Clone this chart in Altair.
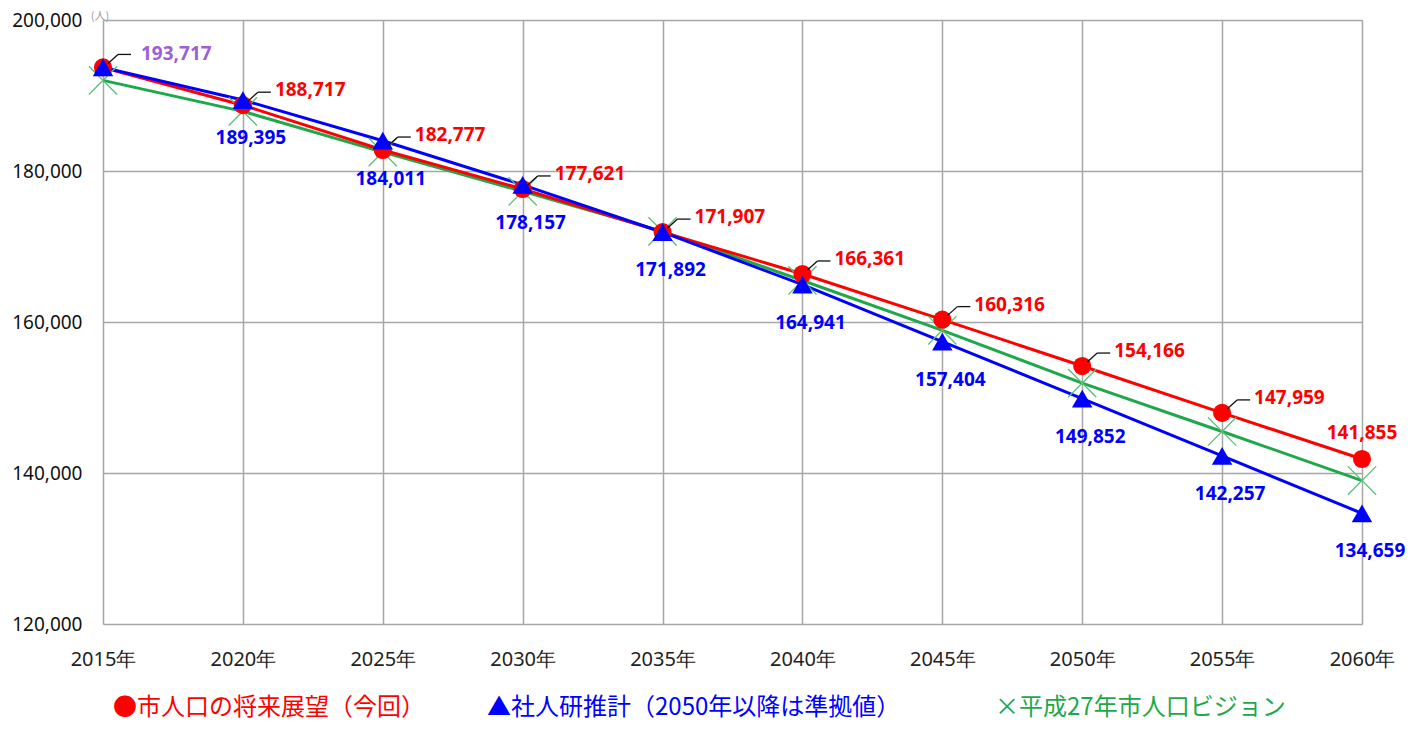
import altair as alt
import pandas as pd

years = [2015, 2020, 2025, 2030, 2035, 2040, 2045, 2050, 2055, 2060]
red_vals = [193717, 188717, 182777, 177621, 171907, 166361, 160316, 154166, 147959, 141855]
blue_vals = [193717, 189395, 184011, 178157, 171892, 164941, 157404, 149852, 142257, 134659]
green_vals = [192000, 187900, 182500, 177300, 172000, 165500, 158900, 151900, 145500, 139000]
y_ticks = [120000, 140000, 160000, 180000, 200000]

legend_red = "●市人口の将来展望（今回）"
legend_blue = "▲社人研推計（2050年以降は準拠値）"
legend_green = "×平成27年市人口ビジョン"

RED = "#ff0000"
BLUE = "#0000ff"
GREEN = "#1ea84a"
GREEN_MK = "#5cbf7a"
PURPLE = "#9b5fd6"

def frame(vals, ys=years):
    return pd.DataFrame({"year": ys, "value": vals,
                         "label": [f"{v:,}" for v in vals]})

red_df = frame(red_vals)
blue_df = frame(blue_vals)
green_df = frame(green_vals)

W, H = 1259, 604

xs = alt.X("year:Q", scale=alt.Scale(domain=[2015, 2060], nice=False, zero=False),
           axis=alt.Axis(values=years, labelExpr="datum.value + '年'", title=None,
                         grid=True, gridColor="#a6a6a6", gridWidth=1.5, domain=False,
                         ticks=False, labelPadding=25, labelFontSize=20, labelFlush=False,
                         labelColor="#222", labelFont="Noto Sans"))
ys = alt.Y("value:Q", scale=alt.Scale(domain=[120000, 200000], nice=False, zero=False),
           axis=alt.Axis(values=y_ticks, labelExpr="format(datum.value, ',')", title=None,
                         grid=True, labelFlush=False,
                         gridColor="#a6a6a6", gridWidth=1.5, domain=False, ticks=False,
                         labelPadding=21, labelFontSize=19, labelColor="#111",
                         labelFont="Noto Sans"))

def line(df, color):
    return alt.Chart(df).mark_line(color=color, strokeWidth=3).encode(x=xs, y=ys)

green_line = line(green_df, GREEN)
red_line = line(red_df, RED)
blue_line = line(blue_df, BLUE)

green_pts = alt.Chart(green_df).mark_point(
    shape="M-1,-1L1,1M-1,1L1,-1", filled=False, color=GREEN_MK, strokeWidth=1.3,
    size=800, opacity=1).encode(x=xs, y=ys)
red_pts = alt.Chart(red_df).mark_point(shape="circle", filled=True, color=RED,
                                       size=330, opacity=1).encode(x=xs, y=ys)
blue_pts = alt.Chart(blue_df).mark_point(shape="triangle-up", filled=True, color=BLUE,
                                         size=420, opacity=1).encode(x=xs, y=ys)

lead_df = red_df.iloc[:-1]
lead1 = alt.Chart(lead_df).mark_rule(color="#111", strokeWidth=1.3,
                                     xOffset=5, yOffset=-4, x2Offset=15, y2Offset=-13).encode(
    x=xs, y=ys, x2="year:Q", y2="value:Q")
lead2 = alt.Chart(lead_df).mark_rule(color="#111", strokeWidth=1.3,
                                     xOffset=15, yOffset=-13, x2Offset=28, y2Offset=-13).encode(
    x=xs, y=ys, x2="year:Q", y2="value:Q")

lab_font = "Noto Sans"
red_lab = alt.Chart(red_df.iloc[1:-1]).mark_text(
    align="left", baseline="middle", dx=32, dy=-15, fontSize=19, fontWeight="bold",
    font=lab_font, color=RED).encode(x=xs, y=ys, text="label:N")
first_lab = alt.Chart(red_df.iloc[:1]).mark_text(
    align="left", baseline="middle", dx=38, dy=-13, fontSize=19, fontWeight="bold",
    font=lab_font, color=PURPLE).encode(x=xs, y=ys, text="label:N")
last_lab = alt.Chart(red_df.iloc[-1:]).mark_text(
    align="center", baseline="middle", dx=0, dy=-26, fontSize=19, fontWeight="bold",
    font=lab_font, color=RED).encode(x=xs, y=ys, text="label:N")
blue_lab = alt.Chart(blue_df.iloc[1:]).mark_text(
    align="center", baseline="middle", dx=8, dy=38, fontSize=19, fontWeight="bold",
    font=lab_font, color=BLUE).encode(x=xs, y=ys, text="label:N")

leg_df = pd.DataFrame({"t": [legend_red, legend_blue, legend_green],
                       "c": [RED, BLUE, GREEN], "px": [10, 384, 892]})
legend = alt.Chart(leg_df).mark_text(
    align="left", baseline="middle", fontSize=24, font="Noto Sans CJK JP").encode(
    x=alt.X("px:Q", scale=None), y=alt.value(H + 84), text="t:N",
    color=alt.Color("c:N", scale=None))

unit = alt.Chart(pd.DataFrame({"t": ["(人)"]})).mark_text(
    align="center", baseline="middle", fontSize=11, color="#999",
    font="Noto Sans CJK JP").encode(x=alt.value(-3), y=alt.value(-3), text="t:N")

chart = alt.layer(
    green_line, red_line, blue_line, green_pts, red_pts, blue_pts,
    lead1, lead2, red_lab, first_lab, last_lab, blue_lab, legend, unit
).properties(
    width=W, height=H,
    autosize=alt.AutoSizeParams(type="none"),
    padding={"left": 95, "top": 12, "right": 49, "bottom": 99},
).configure_view(stroke="#a6a6a6", strokeWidth=1.5).configure(background="white")

chart.save("out.html", embed_options={"renderer": "svg", "actions": False})
